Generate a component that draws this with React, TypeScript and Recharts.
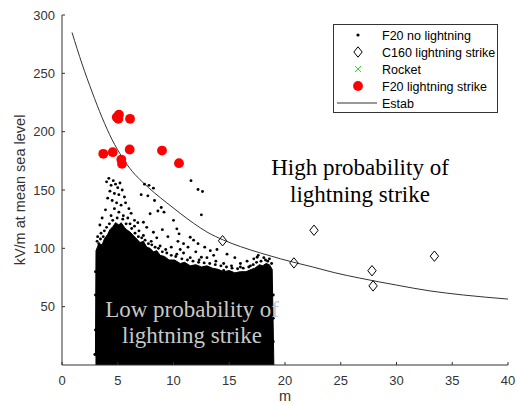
import React from 'react';
import { ComposedChart, XAxis, YAxis, Scatter, Line, Area } from 'recharts';

// ---- ticks ----
const xTicks = [0, 5, 10, 15, 20, 25, 30, 35, 40];
const yTicks = [50, 100, 150, 200, 250, 300];

// ---- F20 no lightning: dense core (upper envelope of the solid cloud) ----
const f20CoreEnvelope: [number, number][] = [
  [3.0, 8], [3.05, 98], [3.3, 104], [3.6, 103], [3.8, 108], [4.1, 112], [4.3, 116], [4.6, 119],
  [4.8, 122], [5.1, 120], [5.3, 122], [5.6, 118], [5.8, 116], [6.1, 114], [6.4, 111],
  [6.7, 108], [7.0, 105], [7.3, 106], [7.6, 101], [7.9, 100], [8.2, 97], [8.5, 98], [8.8, 94],
  [9.2, 93], [9.6, 90], [10.1, 90], [10.6, 87], [11.0, 88], [11.5, 85], [12.0, 86], [12.5, 84],
  [13.0, 85], [13.5, 83], [14.0, 82], [14.5, 80], [15.0, 81], [15.5, 79], [16.0, 80], [16.5, 80],
  [17.0, 82], [17.3, 83], [17.7, 86], [18.0, 85], [18.3, 87], [18.6, 86], [18.85, 82], [19.0, 0],
];

// ---- F20 no lightning: sparse points around the cloud ----
const f20Sparse: [number, number][] = [
  [4.0, 157], [4.2, 160], [4.4, 154], [4.6, 158], [4.8, 155], [5.0, 152], [5.2, 156],
  [4.3, 149], [4.7, 147], [5.1, 146], [5.4, 150], [5.6, 144], [4.1, 143], [4.5, 141],
  [4.9, 139], [5.3, 137], [5.7, 139], [6.0, 134], [4.7, 134], [5.1, 131], [5.5, 128],
  [5.9, 126], [6.2, 130], [6.5, 124], [6.8, 122], [4.4, 128], [3.9, 133], [3.6, 126],
  [3.4, 120], [3.8, 115], [7.4, 155], [7.8, 154], [8.2, 151.6], [7.1, 146], [7.7, 145],
  [8.3, 141], [8.9, 135], [9.15, 131], [8.6, 132], [7.9, 129.6], [7.3, 122.4], [10.0, 124],
  [10.3, 116.7], [10.5, 112.4], [8.2, 113.8], [11.5, 109.5], [12.2, 104], [12.8, 101],
  [13.3, 98], [13.6, 94], [12.5, 92.4], [17.2, 91], [17.5, 92.4], [16.9, 85], [16.0, 84],
  [14.5, 81], [11.57, 158], [12.2, 150.4], [12.6, 148.7], [12.5, 128.7], [9.0, 116],
  [9.5, 110], [10.4, 106], [10.9, 104], [11.3, 101], [11.8, 107], [10.6, 99], [12.0, 97],
  [13.9, 99], [14.8, 95], [15.5, 92], [9.3, 99], [10.3, 95], [10.9, 96], [11.5, 92],
  [12.3, 90], [13.0, 92], [13.8, 89], [14.5, 87], [15.2, 85], [16.0, 87], [16.6, 89],
  [17.6, 94], [18.1, 92], [18.6, 91], [8.8, 102], [8.0, 106], [7.3, 111], [6.9, 115],
  [6.5, 119], [3.2, 110], [3.5, 113], [3.3, 104], [2.95, 9], [3.1, 12], [7.6, 118],
  [8.5, 109], [9.8, 101], [6.1, 121],
  [3.15, 106], [3.45, 108], [3.7, 110], [4.0, 118], [4.25, 121], [4.55, 124], [4.95, 126],
  [5.45, 125], [5.75, 121], [6.25, 117], [6.55, 113], [6.85, 110], [7.15, 109], [7.45, 107],
  [7.75, 104], [8.05, 103], [8.35, 101], [8.65, 100], [9.0, 97], [9.4, 96], [9.8, 94],
  [10.2, 93], [10.75, 91], [11.25, 90], [11.75, 89], [12.25, 88], [12.75, 87.5], [13.25, 87],
  [13.75, 86], [14.25, 85], [14.75, 84], [15.25, 83], [15.75, 82.5], [16.25, 83], [16.75, 84],
  [17.15, 86], [17.45, 88], [17.85, 89], [18.25, 90], [18.45, 89], [18.8, 87], [18.95, 60],
  [18.95, 40], [18.95, 20], [3.0, 60], [3.0, 80], [3.0, 30], [3.5, 5], [3.3, 8],
];

// ---- C160 lightning strike ----
const c160Strike: [number, number][] = [
  [14.4, 106.5], [20.8, 87.5], [22.6, 115.5], [27.8, 80.8], [27.9, 67.8], [33.4, 93.3],
];

// ---- Rocket (no visible points) ----
const rocket: [number, number][] = [];

// ---- F20 lightning strike ----
const f20Strike: [number, number][] = [
  [3.7, 181], [4.55, 182.4], [4.91, 212.4], [5.11, 214.5], [5.05, 211], [6.1, 211],
  [5.32, 176.1], [5.38, 172.4], [6.07, 184.7], [8.97, 183.8], [10.49, 173],
];

// ---- Estab curve ----
const estab: [number, number][] = [
  [0.9, 285], [1.8, 258], [2.7, 234], [3.6, 212], [4.5, 193], [5.4, 178], [6.3, 166],
  [7.2, 157], [8.3, 147.5], [9.4, 139], [10.6, 130], [11.8, 121.5], [13, 114], [14.5, 107],
  [16, 101.5], [17.8, 96], [19.6, 91], [20.8, 88], [22.5, 84], [24.5, 79], [26.7, 74.5],
  [30, 68.5], [33, 63.5], [36, 60], [40, 56.5],
];

const legendItems = ['F20 no lightning', 'C160 lightning strike', 'Rocket', 'F20 lightning strike', 'Estab'];
const highText = ['High probability of', 'lightning strike'];
const lowText = ['Low probability of', 'lightning strike'];
const yLabel = 'kV/m at mean sea level';
const xLabel = 'm';

const toPts = (a: [number, number][]) => a.map(([x, y]) => ({ x, y }));

const SANS = '"Liberation Sans", Arial, sans-serif';
const SERIF = '"Liberation Serif", "Times New Roman", serif';
const AX = '#333333';

const Dot = (p: any) => <circle cx={p.cx} cy={p.cy} r={1.45} fill="#000" />;
const Diamond = (p: any) => (
  <path
    d={`M${p.cx},${p.cy - 5.2} L${p.cx + 4.2},${p.cy} L${p.cx},${p.cy + 5.2} L${p.cx - 4.2},${p.cy} Z`}
    fill="none"
    stroke="#000"
    strokeWidth={1}
  />
);
const Cross = (p: any) => (
  <g stroke="#33dd33" strokeWidth={1}>
    <line x1={p.cx - 3} y1={p.cy - 3} x2={p.cx + 3} y2={p.cy + 3} />
    <line x1={p.cx - 3} y1={p.cy + 3} x2={p.cx + 3} y2={p.cy - 3} />
  </g>
);
const RedDot = (p: any) => <circle cx={p.cx} cy={p.cy} r={4.9} fill="#ff0000" />;

export default function App() {
  const rowY = (i: number) => 35 + i * 17;
  const mx = 358;
  return (
    <div style={{ position: 'absolute', left: 0, top: 0, width: 517, height: 405, background: '#fff' }}>
      <ComposedChart width={517} height={405} margin={{ top: 15, right: 9, bottom: 0, left: 0 }}>
        <XAxis
          type="number"
          dataKey="x"
          domain={[0, 40]}
          ticks={xTicks}
          height={40}
          tickSize={-3}
          tickMargin={14}
          stroke={AX}
          tick={{ fill: AX, fontSize: 13, fontFamily: SANS }}
          axisLine={{ stroke: AX }}
          tickLine={{ stroke: AX }}
          allowDataOverflow
        />
        <YAxis
          type="number"
          dataKey="y"
          domain={[0, 300]}
          ticks={yTicks}
          width={62}
          tickSize={-3}
          tickMargin={10}
          stroke={AX}
          tick={{ fill: AX, fontSize: 13, fontFamily: SANS }}
          axisLine={{ stroke: AX }}
          tickLine={{ stroke: AX }}
          allowDataOverflow
        />
        <Area
          data={toPts(f20CoreEnvelope)}
          dataKey="y"
          type="linear"
          fill="#000"
          fillOpacity={1}
          stroke="#000"
          strokeWidth={1}
          isAnimationActive={false}
          dot={false}
          activeDot={false}
        />
        <Scatter data={toPts(f20Sparse)} shape={Dot} isAnimationActive={false} />
        <Scatter data={toPts(c160Strike)} shape={Diamond} isAnimationActive={false} />
        <Scatter data={toPts(rocket)} shape={Cross} isAnimationActive={false} />
        <Scatter data={toPts(f20Strike)} shape={RedDot} isAnimationActive={false} />
        <Line
          data={toPts(estab)}
          dataKey="y"
          type="monotone"
          stroke="#333"
          strokeWidth={1}
          dot={false}
          activeDot={false}
          isAnimationActive={false}
        />
      </ComposedChart>
      <svg
        width={517}
        height={405}
        style={{ position: 'absolute', left: 0, top: 0, pointerEvents: 'none' }}
      >
        <text
          x={24.5}
          y={190}
          transform="rotate(-90, 24.5, 190)"
          textAnchor="middle"
          fontFamily={SANS}
          fontSize={14.5}
          fill={AX}
        >
          {yLabel}
        </text>
        <text x={285} y={401} textAnchor="middle" fontFamily={SANS} fontSize={14.5} fill={AX}>
          {xLabel}
        </text>
        {highText.map((t, i) => (
          <text key={'h' + i} x={360} y={175 + i * 27} textAnchor="middle" fontFamily={SERIF} fontSize={23} fill="#000">
            {t}
          </text>
        ))}
        {lowText.map((t, i) => (
          <text key={'l' + i} x={192} y={317 + i * 26} textAnchor="middle" fontFamily={SERIF} fontSize={23} fill="#c8c8c8">
            {t}
          </text>
        ))}
        <rect x={333.5} y={24.5} width={164} height={88} fill="#fff" stroke={AX} strokeWidth={1} />
        <circle cx={mx} cy={rowY(0)} r={1.6} fill="#000" />
        <Diamond cx={mx} cy={rowY(1)} />
        <Cross cx={mx} cy={rowY(2)} />
        <RedDot cx={mx} cy={rowY(3)} />
        <line x1={337} y1={rowY(4)} x2={377} y2={rowY(4)} stroke="#333" strokeWidth={1} />
        {legendItems.map((t, i) => (
          <text key={t} x={382} y={rowY(i) + 4.5} fontFamily={SANS} fontSize={12.5} fill="#000">
            {t}
          </text>
        ))}
      </svg>
    </div>
  );
}
